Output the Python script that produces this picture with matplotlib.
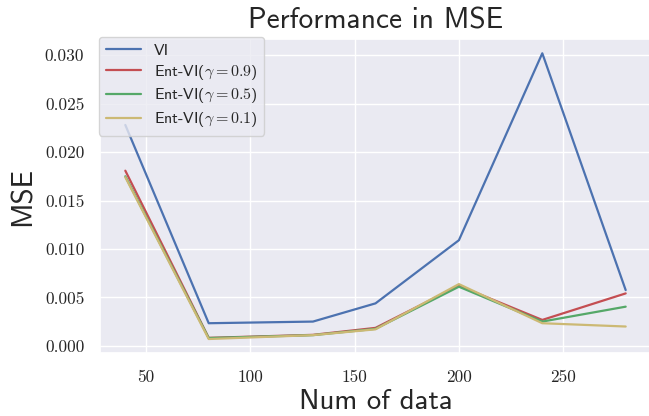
import numpy as np
import matplotlib
matplotlib.use("Agg")
import matplotlib.pyplot as plt
import seaborn as sns

# Datos
num_data = [40, 80, 130, 160, 200, 240, 280]
mse_vi = [0.0228, 0.00233, 0.0025, 0.00438, 0.0109, 0.0302, 0.00575]
mse_ent_09 = [0.01808, 0.00082, 0.00113, 0.00185, 0.0062, 0.00267, 0.00541]
mse_ent_05 = [0.0175, 0.0008, 0.0011, 0.00175, 0.0061, 0.0025, 0.00404]
mse_ent_01 = [0.0174, 0.0007, 0.0011, 0.0017, 0.00637, 0.00233, 0.00199]
labels = ["VI", r"Ent-VI($\gamma=0.9$)", r"Ent-VI($\gamma=0.5$)", r"Ent-VI($\gamma=0.1$)"]

sns.set_theme(style="darkgrid", color_codes=True)
plt.rcParams["mathtext.fontset"] = "cm"
plt.rcParams["axes.unicode_minus"] = False

W, H = 649, 416
fig = plt.figure(figsize=(W / 100, H / 100), dpi=100)
ax = fig.add_axes([100.3 / W, 1 - 353.3 / H, 550.4 / W, 314.3 / H])

ax.plot(num_data, mse_vi, color="b", lw=1.6, label=labels[0])
ax.plot(num_data, mse_ent_09, color="r", lw=1.6, label=labels[1])
ax.plot(num_data, mse_ent_05, color="g", lw=1.6, label=labels[2])
ax.plot(num_data, mse_ent_01, color="y", lw=1.6, label=labels[3])

ax.set_xticks([50, 100, 150, 200, 250])
ax.set_yticks([0.0, 0.005, 0.01, 0.015, 0.02, 0.025, 0.03])
ax.set_yticklabels(["%.3f" % v for v in ax.get_yticks()])
for lab in ax.get_xticklabels() + ax.get_yticklabels():
    lab.set_fontfamily("cmr10")
    lab.set_fontsize(12.5)
    lab.set_color("#262626")
ax.tick_params(axis="both", length=0, pad=11.5)

ax.set_title("Performance in MSE", fontfamily="cmss10", fontsize=21.1, pad=7.5, color="#262626")
ax.set_xlabel("Num of data", fontfamily="cmss10", fontsize=20.8, color="#262626", labelpad=3.5)
ax.set_ylabel("MSE", fontfamily="cmss10", fontsize=21, color="#262626", labelpad=6)

leg = ax.legend(loc="upper left", bbox_to_anchor=(99.3 / W, 1 - 37.3 / H),
                bbox_transform=fig.transFigure, borderaxespad=0,
                prop={"family": "cmss10", "size": 11.5}, frameon=True,
                fancybox=True, framealpha=0.8, handlelength=2.2,
                labelspacing=0.3, borderpad=0.4)
leg.get_frame().set_edgecolor("0.8")
leg.get_frame().set_facecolor("#EAEAF2")

fig.savefig("out.png", dpi=100)
